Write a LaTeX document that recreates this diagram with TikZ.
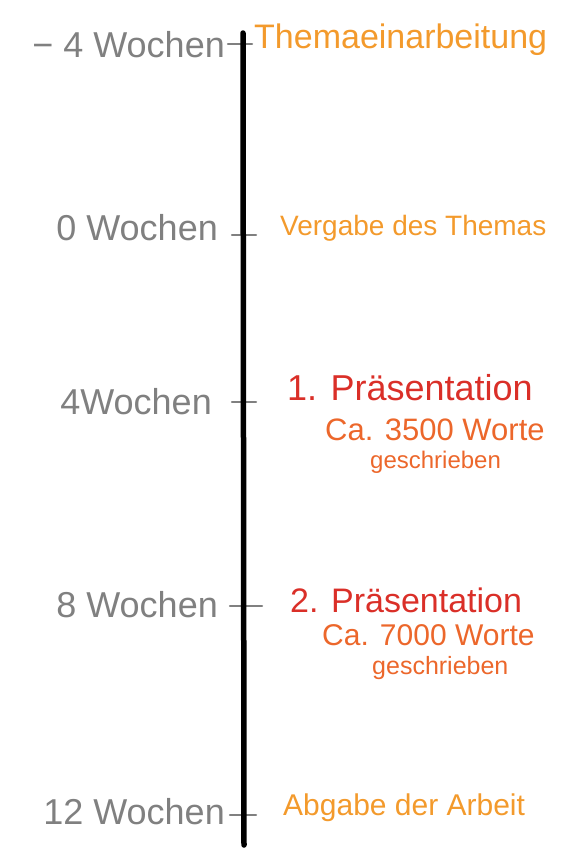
\documentclass[tikz,border=0pt]{standalone}
\usepackage{fontspec}
\setmainfont{Liberation Sans}
\usetikzlibrary{positioning}

\definecolor{weekgray}{HTML}{808080}
\definecolor{taskorange}{HTML}{F39A2C}
\definecolor{presred}{HTML}{DA2F28}
\definecolor{noteorange}{HTML}{EC672B}

\tikzset{
    week/.style={anchor=east, inner sep=0pt, text=weekgray, font=\fontsize{36}{40}\selectfont},
    task/.style={anchor=west, inner sep=0pt, text=taskorange},
    pres/.style={anchor=west, inner sep=0pt, text=presred, font=\fontsize{36}{40}\selectfont},
    note/.style={anchor=west, inner sep=0pt, text=noteorange},
    tick/.style={line width=2.5pt, weekgray, line cap=round}
}

\begin{document}
\begin{tikzpicture}[x=1pt, y=-1pt]
        \useasboundingbox (0,0) rectangle (580,855);

        % Draw the time axis
        \coordinate (top) at (243,33);
        \coordinate (bottom) at (244,845);

        % Tick positions
        \coordinate (t0) at (242,44);
        \coordinate (t1) at (243,235);
        \coordinate (t2) at (243,402);
        \coordinate (t3) at (244,606);
        \coordinate (t4) at (244,815);

        \draw[tick] ([xshift=-14pt]t0) -- ([xshift=10pt]t0);
        \draw[tick] ([xshift=-11pt]t1) -- ([xshift=13pt]t1);
        \draw[tick] ([xshift=-11pt]t2) -- ([xshift=13pt]t2);
        \draw[tick] ([xshift=-14pt]t3) -- ([xshift=18pt]t3);
        \draw[tick] ([xshift=-14pt]t4) -- ([xshift=12pt]t4);

        \draw[line width=5.5pt, black, line cap=round] (top) -- (bottom);

        % Week labels
        \node[week] (w0) at (225,45) {− 4 Wochen};
        \node[week] (w1) at (218,228) {0 Wochen};
        \node[week] (w2) at (212,402) {4Wochen};
        \node[week] (w3) at (218,605) {8 Wochen};
        \node[week] (w4) at (225,812) {12 Wochen};

        % Events
        \node[task, font=\fontsize{34}{38}\selectfont] (e0) at (254,40) {Themaeinarbeitung};
        \node[task, font=\fontsize{28}{32}\selectfont] (e1) at (280,228) {Vergabe des Themas};

        \node[pres] (e2) at (287,388) {1. Präsentation};
        \node[note, font=\fontsize{31}{34}\selectfont] (n2a) at (325,430) {Ca. 3500 Worte};
        \node[note, font=\fontsize{24}{28}\selectfont] (n2b) at (370,462) {geschrieben};

        \node[pres, font=\fontsize{34}{38}\selectfont] (e3) at (290,600) {2. Präsentation};
        \node[note, font=\fontsize{30}{34}\selectfont] (n3a) at (322,635) {Ca. 7000 Worte};
        \node[note, font=\fontsize{25}{28}\selectfont] (n3b) at (372,668) {geschrieben};

        \node[task, font=\fontsize{30}{34}\selectfont] (e4) at (283,808) {Abgabe der Arbeit};
    \end{tikzpicture}
\end{document}
